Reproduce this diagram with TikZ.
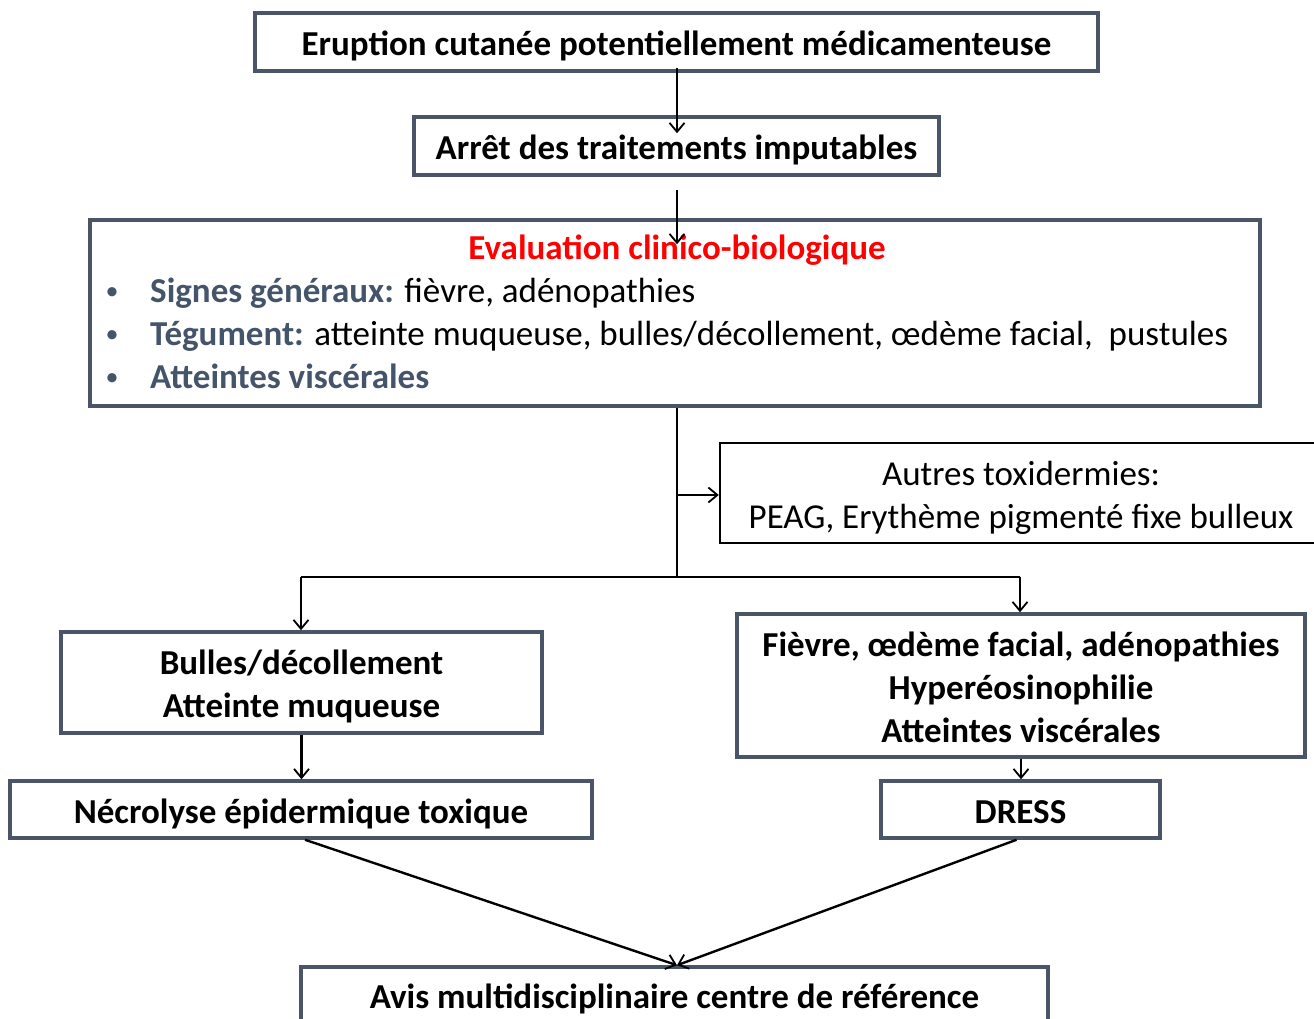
\documentclass[tikz,border=0pt]{standalone}
\usepackage{fontspec}
\setmainfont{Carlito}
\usetikzlibrary{arrows.meta,calc}
\definecolor{bordc}{HTML}{4A5568}
\definecolor{slate}{HTML}{44546A}
\newcommand{\bxt}[1]{\raisebox{0pt}[\dimexpr\height+10pt\relax][\depth]{\begin{tabular}{@{}c@{}}#1\end{tabular}}}
\begin{document}
\begin{tikzpicture}[x=1pt,y=-1pt,
  box/.style={draw=bordc,line width=3.5pt,inner sep=0pt,
    font=\fontsize{35}{43}\selectfont\bfseries},
  plainbox/.style={draw=black,line width=2.5pt,inner sep=0pt,
    font=\fontsize{35}{43}\selectfont},
  txt/.style={inner sep=0pt,font=\fontsize{35}{43}\selectfont},
  conn/.style={draw=black,line width=2.4pt},
  arr/.style={conn,-{Straight Barb[length=9pt,width=15pt,line width=1.8pt]}}
]
\useasboundingbox (0,0) rectangle (1314,1019);

% boxes
\node[box,minimum width=843pt,minimum height=58pt] (top) at (676.5,42) {\bxt{Eruption cutanée potentiellement médicamenteuse}};
\node[box,minimum width=525pt,minimum height=58pt] (arret) at (676.5,146) {\bxt{Arrêt des traitements imputables}};
\node[box,minimum width=1170pt,minimum height=186pt] (eval) at (675,313) {};
\node[txt,anchor=base,font=\fontsize{35}{43}\selectfont\bfseries,text=red] (evt) at (677,259) {Evaluation clinico-biologique};
\node[txt,anchor=base,text=slate,font=\fontsize{26}{30}\selectfont] (b1) at (112,299) {•};
\node[txt,anchor=base,text=slate,font=\fontsize{26}{30}\selectfont] (b2) at (112,342) {•};
\node[txt,anchor=base,text=slate,font=\fontsize{26}{30}\selectfont] (b3) at (112,385) {•};
\node[txt,anchor=base west] (l1) at (150,302) {\textcolor{slate}{\bfseries Signes généraux:} fièvre, adénopathies};
\node[txt,anchor=base west] (l2) at (150,345) {\textcolor{slate}{\bfseries Tégument:} atteinte muqueuse, bulles/décollement, œdème facial,\ \ pustules};
\node[txt,anchor=base west,text=slate,font=\fontsize{35}{43}\selectfont\bfseries] (l3) at (150,388) {Atteintes viscérales};

\node[plainbox,minimum width=602pt,minimum height=100pt] (autres) at (1021,493) {\bxt{Autres toxidermies:\\PEAG, Erythème pigmenté fixe bulleux}};
\node[box,minimum width=481pt,minimum height=101pt] (bulles) at (301.5,682.5) {\bxt{Bulles/décollement\\Atteinte muqueuse}};
\node[box,minimum width=568pt,minimum height=143pt] (fievre) at (1021,685.5) {\bxt{Fièvre, œdème facial, adénopathies\\Hyperéosinophilie\\Atteintes viscérales}};
\node[box,minimum width=582pt,minimum height=57pt] (necro) at (301,809.5) {\bxt{Nécrolyse épidermique toxique}};
\node[box,minimum width=279pt,minimum height=57pt] (dress) at (1020.5,809.5) {\bxt{DRESS}};
\node[box,minimum width=747pt,minimum height=55pt] (avis) at (674.5,994.5) {\bxt{Avis multidisciplinaire centre de référence}};

% junctions
\coordinate (j1) at (677,495);
\coordinate (j2) at (677,577);
\coordinate (jl) at (301,577);
\coordinate (jr) at (1020,577);

% connectors
\draw[arr] ($(top.south)+(0.5,-5)$) -- ($(arret.north)+(0.5,18)$);
\draw[arr] ($(arret.south)+(0.5,13)$) -- ($(eval.north)+(2,26)$);
\draw[conn] (eval.south -| j2) -- (j2);
\draw[arr] (j1) -- (j1 -| autres.west);
\draw[conn] (jl) -- (jr);
\draw[arr] (jl) -- (jl |- bulles.north);
\draw[arr] (jr) -- (jr |- fievre.north);
\draw[arr] (bulles.south) -- (bulles.south |- necro.north);
\draw[arr] (fievre.south) -- (fievre.south |- dress.north);
\draw[arr] ($(necro.south)+(4,0)$) -- ($(avis.north)+(2.5,0)$);
\draw[arr] ($(dress.south)+(-4,0)$) -- ($(avis.north)+(2.5,0)$);
\end{tikzpicture}
\end{document}
